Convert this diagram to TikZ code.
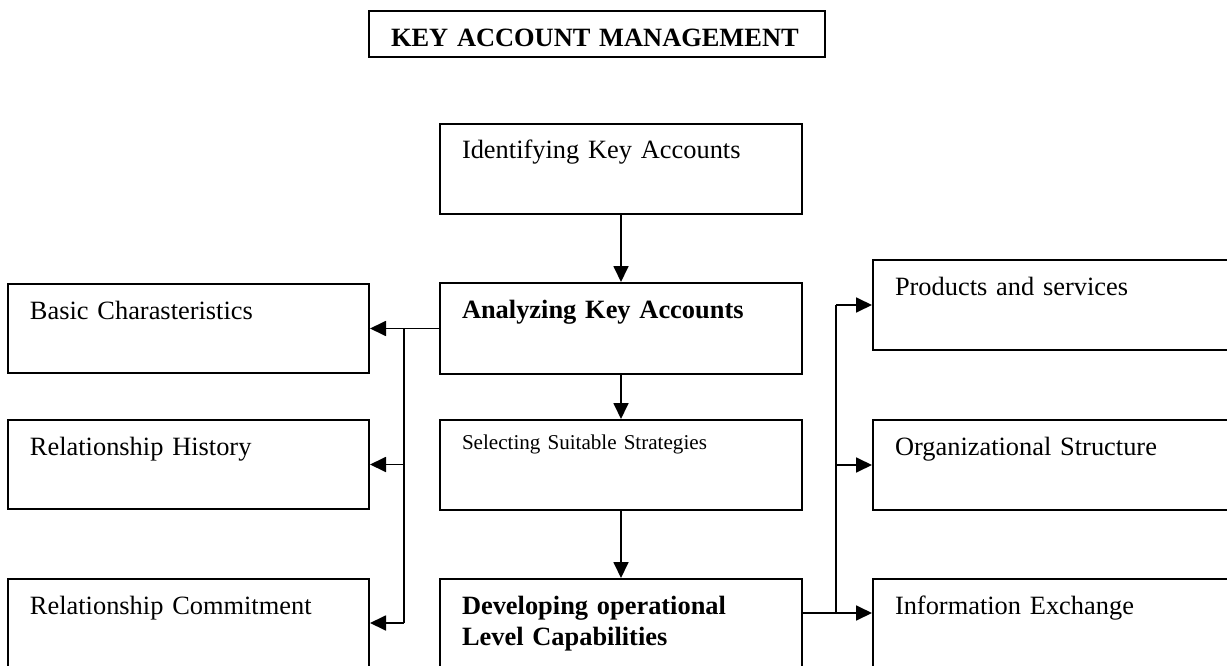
\documentclass[tikz,border=0pt]{standalone}
\usepackage{fontspec}
\setmainfont{Liberation Serif}
\usetikzlibrary{arrows.meta,calc}

\tikzset{
  blk/.style 2 args={draw, line width=2pt, anchor=north west, align=left,
    inner xsep=22pt, inner ysep=0pt, text width=#1-44pt,
    text height=35pt, text depth=#2, font=\fontsize{26.4}{31}\selectfont},
  arr/.style={-{Triangle[length=16pt,width=15pt]}, line width=1.8pt},
  lin/.style={line width=1.8pt},
}

\begin{document}
\begin{tikzpicture}[x=1pt, y=-1pt]
  \useasboundingbox (0,0) rectangle (1227,666);
  \clip (0,0) rectangle (1227,666);

  % heading
  \node[blk={456}{10pt}, text height=36pt,
    font=\fontsize{26.4}{31}\selectfont\bfseries] (kam) at (368,10)
    {KEY ACCOUNT MANAGEMENT};

  % middle column
  \node[blk={362}{55pt}] (ident) at (439,123) {Identifying Key Accounts};
  \node[blk={362}{56pt}, font=\fontsize{26.4}{31}\selectfont\bfseries]
    (analyz) at (439,282) {Analyzing Key Accounts};
  \node[blk={362}{61pt}, text height=29pt,
    font=\fontsize{21.1}{25}\selectfont] (select) at (439,419)
    {Selecting Suitable Strategies};
  \node[blk={362}{65pt}, font=\fontsize{26.4}{31}\selectfont\bfseries]
    (devel) at (439,578) {Developing operational\\Level Capabilities};

  % left column
  \node[blk={361}{54pt}] (basic) at (7,283) {Basic Charasteristics};
  \node[blk={361}{54pt}] (hist) at (7,419) {Relationship History};
  \node[blk={361}{65pt}] (commit) at (7,578) {Relationship Commitment};

  % right column (runs past the edge)
  \node[blk={380}{55pt}] (prod) at (872,259) {Products and services};
  \node[blk={380}{55pt}] (org) at (872,419) {Organizational Structure};
  \node[blk={380}{65pt}] (info) at (872,578) {Information Exchange};

  % main flow
  \draw[arr] (ident.south) -- (analyz.north);
  \draw[arr] (analyz.south) -- (select.north);
  \draw[arr] (select.south) -- (devel.north);

  % left branch
  \coordinate (lj) at (404,328);
  \coordinate (lc) at (404,623);
  \draw[arr] (analyz.west) -- (basic.east);
  \draw[lin] (lj) -- (lc);
  \draw[arr] (lj |- hist.east) -- (hist.east);
  \draw[arr] (lc) -- (lc -| commit.east);

  % right branch
  \coordinate (dvout) at ($(devel.north east)+(0,35)$);
  \coordinate (rj) at (836,613);
  \draw[lin, line width=2.6pt] (dvout) -- (rj);
  \draw[lin] (rj) -- (rj |- prod.west);
  \foreach \b in {prod, org}
    \draw[arr] (rj |- \b.west) -- (\b.west);
  \draw[arr] (rj) -- (rj -| info.west);
\end{tikzpicture}
\end{document}
